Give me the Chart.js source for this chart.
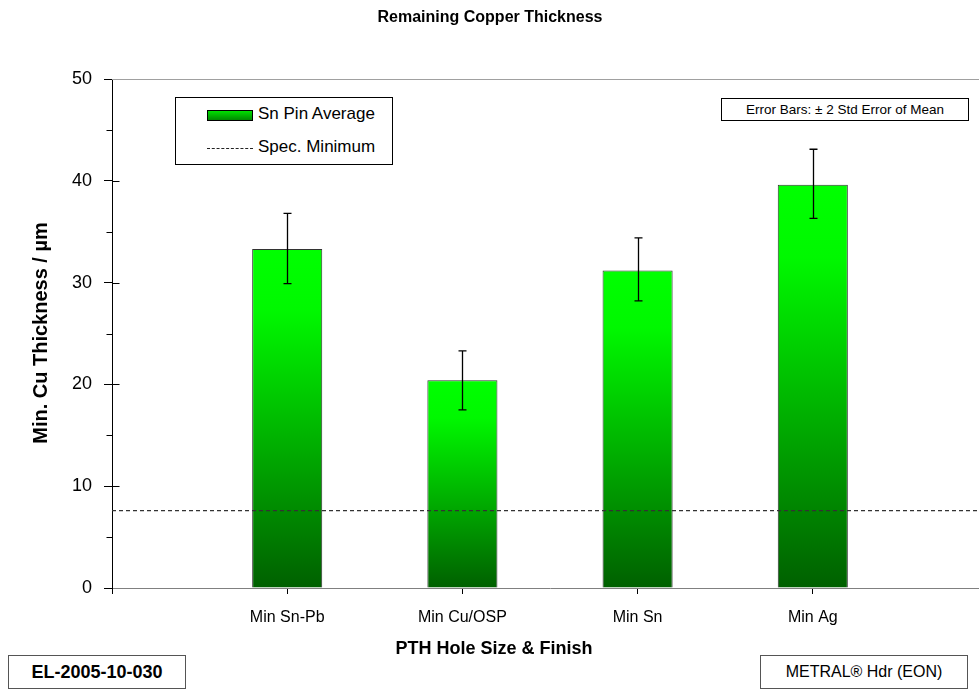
<!DOCTYPE html>
<html><head><meta charset="utf-8">
<script src="https://cdn.jsdelivr.net/npm/chart.js@4"></script>
<style>
html,body{margin:0;padding:0;overflow:hidden;background:#fff;width:979px;height:690px;}
#wrap{position:absolute;left:0;top:0;width:1002px;height:690px;}
.box{position:absolute;background:#fff;border:1px solid #000;font-family:"Liberation Sans",Arial,sans-serif;color:#000;box-sizing:border-box;white-space:nowrap;}
.lbl{position:absolute;font-size:17px;line-height:20px;}
</style></head><body>
<div id="wrap"><canvas id="c" width="1002" height="690"></canvas></div>
<div class="box" style="left:175px;top:97px;width:218px;height:68px;">
  <div style="position:absolute;left:31px;top:12px;width:46px;height:11px;border:1px solid #000;box-sizing:border-box;background:linear-gradient(#00e000,#008800);"></div>
  <div class="lbl" style="left:82px;top:6px;">Sn Pin Average</div>
  <div style="position:absolute;left:31px;top:50px;width:46px;height:0;border-top:1px dashed #222;"></div>
  <div class="lbl" style="left:82px;top:39px;">Spec. Minimum</div>
</div>
<div class="box" style="left:721px;top:98px;width:248px;height:23px;font-size:13.5px;line-height:21px;text-align:center;">Error Bars: ± 2 Std Error of Mean</div>
<div class="box" style="left:8px;top:655px;width:178px;height:34px;font-size:18px;font-weight:bold;line-height:32px;text-align:center;border-color:#555;">EL-2005-10-030</div>
<div class="box" style="left:760px;top:655px;width:208px;height:34px;font-size:16px;line-height:32px;text-align:center;border-color:#555;">METRAL® Hdr (EON)</div>
<script>
const categories = ["", "Min Sn-Pb", "Min Cu/OSP", "Min Sn", "Min Ag", ""];
const snPinAverage = [null, 33.3, 20.4, 31.2, 39.6, null];
const errLow = [null, 29.9, 17.5, 28.2, 36.3, null];
const errHigh = [null, 36.8, 23.3, 34.4, 43.1, null];
const specMinimum = [7.6, 7.6, 7.6, 7.6, 7.6, 7.6];
const yTickValues = [0, 10, 20, 30, 40, 50];
const chartTitle = "Remaining Copper Thickness";
const xTitle = "PTH Hole Size & Finish";
const yTitle = "Min. Cu Thickness / µm";

const FONT = "'Liberation Sans', Arial, sans-serif";

function barGradient(ctx) {
  const chart = ctx.chart;
  if (!chart.chartArea) return '#00c000';
  const v = ctx.raw;
  if (v == null) return 'rgba(0,0,0,0)';
  const y = chart.scales.y;
  const top = y.getPixelForValue(v), base = y.getPixelForValue(0);
  const g = chart.ctx.createLinearGradient(0, top, 0, base);
  g.addColorStop(0, '#00ff00');
  g.addColorStop(0.18, '#00f800');
  g.addColorStop(1, '#006000');
  return g;
}

const decorPlugin = {
  id: 'decor',
  afterDraw(chart) {
    const c = chart.ctx, y = chart.scales.y, a = chart.chartArea;
    c.save();
    c.strokeStyle = '#a0a0a0'; c.lineWidth = 1;
    const yt = Math.round(y.getPixelForValue(50)) + 0.5;
    c.beginPath(); c.moveTo(a.left, yt); c.lineTo(a.right, yt); c.stroke();
    c.strokeStyle = '#000';
    const lx = Math.round(a.left) + 0.5;
    for (let v = 10; v <= 40; v += 10) {
      const p = Math.round(y.getPixelForValue(v)) + 0.5;
      c.beginPath(); c.moveTo(lx, p); c.lineTo(lx + 7, p); c.stroke();
    }
    for (let v = 5; v < 50; v += 10) {
      const p = Math.round(y.getPixelForValue(v)) + 0.5;
      c.beginPath(); c.moveTo(lx - 6, p); c.lineTo(lx, p); c.stroke();
    }
    c.fillStyle = '#000';
    c.textAlign = 'center'; c.textBaseline = 'middle';
    c.font = 'bold 16px ' + FONT;
    c.fillText(chartTitle, 490, 18);
    c.font = 'bold 18px ' + FONT;
    c.fillText(xTitle, 494, 649);
    c.font = 'bold 20px ' + FONT;
    c.translate(41, 333); c.rotate(-Math.PI / 2);
    c.fillText(yTitle, 0, 0);
    c.restore();
  }
};

const errorBarPlugin = {
  id: 'errbars',
  afterDatasetsDraw(chart) {
    const c = chart.ctx, y = chart.scales.y, x = chart.scales.x;
    c.save();
    c.strokeStyle = '#000'; c.lineWidth = 1.3;
    for (let i = 0; i < categories.length; i++) {
      if (errLow[i] == null) continue;
      const px = Math.round(x.getPixelForValue(i)) + 0.5;
      const lo = y.getPixelForValue(errLow[i]), hi = y.getPixelForValue(errHigh[i]);
      c.beginPath();
      c.moveTo(px, lo); c.lineTo(px, hi);
      c.moveTo(px - 4, lo); c.lineTo(px + 4, lo);
      c.moveTo(px - 4, hi); c.lineTo(px + 4, hi);
      c.stroke();
    }
    c.restore();
  }
};

new Chart(document.getElementById('c'), {
  data: {
    labels: categories,
    datasets: [
      {
        type: 'line', label: 'Spec. Minimum', data: specMinimum,
        borderColor: '#333', borderWidth: 1.3, borderDash: [4, 3],
        pointRadius: 0, fill: false, order: 1
      },
      {
        type: 'bar', label: 'Sn Pin Average', data: snPinAverage,
        backgroundColor: barGradient, borderColor: '#333', borderWidth: 1,
        categoryPercentage: 0.4, barPercentage: 1, order: 2
      }
    ]
  },
  options: {
    responsive: false, animation: false, devicePixelRatio: 1,
    layout: { padding: { top: 79, right: 1.5, left: 0, bottom: 0 } },
    plugins: { legend: { display: false }, title: { display: false }, tooltip: { enabled: false } },
    scales: {
      x: {
        type: 'category', offset: false,
        grid: { offset: false, drawOnChartArea: false, drawTicks: true, tickLength: 6, tickColor: '#000', color: '#000' },
        border: { color: '#808080', width: 1 },
        ticks: { autoSkip: false, maxRotation: 0, color: '#000', font: { family: FONT, size: 16 }, padding: 14 },
        afterFit(s) { s.height = 102; }
      },
      y: {
        min: 0, max: 50,
        afterBuildTicks(s) { s.ticks = yTickValues.map(v => ({ value: v })); },
        grid: { drawOnChartArea: false, drawTicks: true, tickLength: 8, tickColor: '#000' },
        border: { color: '#000', width: 1 },
        ticks: { color: '#000', font: { family: FONT, size: 18 }, padding: 12 },
        afterFit(s) { s.width = 112; }
      }
    }
  },
  plugins: [decorPlugin, errorBarPlugin]
});
</script>
</body></html>
